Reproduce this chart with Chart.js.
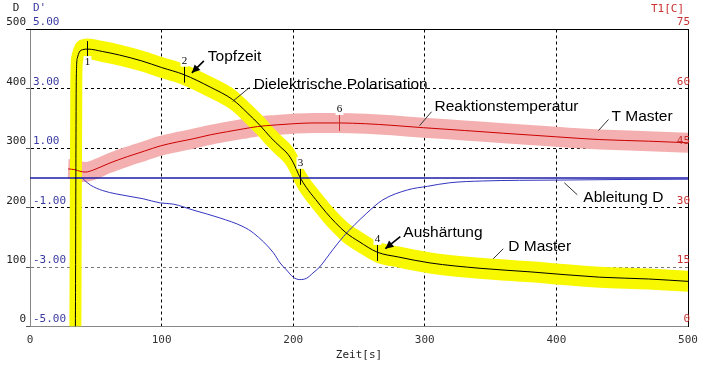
<!DOCTYPE html>
<html>
<head>
<meta charset="utf-8">
<script src="https://cdn.jsdelivr.net/npm/chart.js@4.4.1/dist/chart.umd.min.js"></script>
<style>
  html, body { margin: 0; padding: 0; background: #fff; }
</style>
</head>
<body>
<canvas id="chart" width="708" height="365"></canvas>
<script>
// time axis [s]
const xTicks = [0, 100, 200, 300, 400, 500];
const dTicks = [0, 100, 200, 300, 400, 500];
const dpTicks = [-5, -3, -1, 1, 3, 5];
const tTicks = [0, 15, 30, 45, 60, 75];

// D Master
const timeD = [34.5, 35.2, 36, 37.5, 40, 44, 55, 68, 85, 100, 117, 137, 154, 165, 175, 183, 190, 196, 200, 205, 210, 217, 225, 232, 240, 250, 264, 280, 304, 342, 380, 433, 470, 500];
const dMaster = [0, 420, 452, 462, 466, 467, 463, 457, 447, 436, 424, 403, 382, 360, 338, 318, 303, 290, 276, 252, 234, 214, 192, 175, 158, 143, 125, 117, 107, 98, 92, 83, 80, 76];

// T Master [C]
const timeT = [29, 34, 38, 42, 48, 60, 74, 87, 99, 112, 124, 137, 150, 162, 173, 187, 200, 215, 235, 255, 275, 299, 330, 360, 400, 433, 470, 500];
const tMaster = [39.8, 39.6, 39.2, 39.0, 39.5, 41.2, 42.9, 44.3, 45.6, 46.6, 47.4, 48.4, 49.2, 49.9, 50.5, 50.9, 51.2, 51.4, 51.4, 51.2, 50.8, 50.2, 49.5, 48.8, 47.9, 47.2, 46.8, 46.4];

// Ableitung D (D')
const timeDp = [34, 39, 42, 46, 55, 66, 86, 99, 109, 124, 144, 162, 170, 185, 190, 195, 200, 205, 210, 215, 220, 230, 238, 256, 268, 287, 302, 319, 344, 400, 450, 500];
const dDeriv = [0, 0, -0.1, -0.24, -0.42, -0.54, -0.70, -0.84, -0.88, -1.08, -1.34, -1.64, -1.86, -2.52, -2.86, -3.1, -3.34, -3.42, -3.38, -3.2, -3.0, -2.42, -1.98, -1.18, -0.74, -0.40, -0.28, -0.16, -0.10, -0.07, -0.05, -0.04];
const zeroTimes = [0, 500];
const zeroValues = [0, 0];

// numbered marks on the curves
const markerLabels = ['1', '2', '3', '4', '6'];
const markerTimes = [43, 117, 205, 264, 235];
const markerValues = [467, 424, 252, 124, 51.4];
const markerAxes = ['yD', 'yD', 'yD', 'yD', 'yT'];

const notes = [
  { text: 'Topfzeit', t: 123, v: 427, axis: 'yD', line: [12, -12], label: [16, -16], arrow: true },
  { text: 'Dielektrische Polarisation', t: 154, v: 379, axis: 'yD', line: [17, -14], label: [21, -17] },
  { text: 'Reaktionstemperatur', t: 296, v: 50.7, axis: 'yT', line: [12, -14], label: [15, -19] },
  { text: 'T Master', t: 432, v: 49.5, axis: 'yT', line: [10, -11], label: [13, -14] },
  { text: 'Ableitung D', t: 406, v: -0.16, axis: 'yDp', line: [13, 12], label: [19, 15] },
  { text: 'Aushärtung', t: 270, v: 131, axis: 'yD', line: [15, -12], label: [18, -16], arrow: true },
  { text: 'D Master', t: 352, v: 114, axis: 'yD', line: [10, -10], label: [15, -12] }
];

const pts = (xs, ys) => xs.map((x, i) => ({ x, y: ys[i] }));
const mono = { family: '"DejaVu Sans Mono", monospace', size: 11 };
const monoCss = '11px "DejaVu Sans Mono", monospace';
const red = '#c83232';
const blue = '#3a3aa0';

// thick tolerance bands, stroked with an elliptical pen (wider vertically)
const bandPen = {
  id: 'bandPen',
  beforeDatasetDraw(chart, args) {
    const ds = chart.data.datasets[args.index];
    if (!ds.band) return;
    const { ctx, chartArea: a } = chart;
    const line = args.meta.dataset;
    if (line.updateControlPoints) line.updateControlPoints(a, 'x');
    const raw = new Path2D();
    line.path(raw);
    const k = ds.band.height / ds.band.width;
    const squashed = new Path2D();
    squashed.addPath(raw, new DOMMatrix([1, 0, 0, 1 / k, 0, 0]));
    ctx.save();
    ctx.beginPath();
    ctx.rect(a.left, a.top, a.right - a.left, a.bottom - a.top);
    ctx.clip();
    ctx.scale(1, k);
    ctx.lineWidth = ds.band.width;
    ctx.strokeStyle = ds.borderColor;
    ctx.lineJoin = 'round';
    ctx.lineCap = 'butt';
    ctx.stroke(squashed);
    ctx.restore();
    return false;
  }
};

const overlay = {
  id: 'overlay',
  afterDraw(chart) {
    const { ctx, chartArea: a, scales } = chart;
    ctx.save();
    // top frame
    const top = Math.floor(a.top) + 0.5;
    ctx.strokeStyle = '#000';
    ctx.lineWidth = 1;
    ctx.beginPath();
    ctx.moveTo(a.left - 4, top);
    ctx.lineTo(a.right, top);
    ctx.stroke();

    // axis names
    ctx.font = monoCss;
    ctx.textBaseline = 'middle';
    ctx.textAlign = 'center';
    ctx.fillStyle = '#222';
    ctx.fillText('D', a.left - 14, a.top - 21);
    ctx.textAlign = 'left';
    ctx.fillStyle = blue;
    ctx.fillText("D'", a.left + 3, a.top - 21);
    ctx.textAlign = 'right';
    ctx.fillStyle = red;
    ctx.fillText('T1[C]', a.right - 4, a.top - 20);

    // numbered marks
    ctx.font = '11px "Liberation Serif", serif';
    ctx.textAlign = 'center';
    markerLabels.forEach((lab, i) => {
      const x = Math.round(scales.x.getPixelForValue(markerTimes[i])) + 0.5;
      const y = scales[markerAxes[i]].getPixelForValue(markerValues[i]);
      ctx.strokeStyle = markerAxes[i] === 'yT' ? red : '#000';
      ctx.beginPath();
      ctx.moveTo(x, y - 8);
      ctx.lineTo(x, y + 8);
      ctx.stroke();
      const ly = i === 0 ? y + 13 : y - 14;
      ctx.fillStyle = '#fff';
      ctx.fillRect(x - 4, ly - 6, 8, 12);
      ctx.fillStyle = '#000';
      ctx.fillText(lab, x, ly);
    });

    // annotations
    ctx.font = '15.5px "Liberation Sans", Arial, sans-serif';
    ctx.textAlign = 'left';
    notes.forEach(n => {
      const tx = scales.x.getPixelForValue(n.t);
      const ty = scales[n.axis].getPixelForValue(n.v);
      const sx = tx + n.line[0], sy = ty + n.line[1];
      ctx.strokeStyle = n.arrow ? '#000' : '#333';
      ctx.lineWidth = n.arrow ? 1.6 : 1;
      ctx.beginPath();
      ctx.moveTo(sx, sy);
      ctx.lineTo(tx, ty);
      ctx.stroke();
      if (n.arrow) {
        const ang = Math.atan2(ty - sy, tx - sx);
        ctx.fillStyle = '#000';
        ctx.beginPath();
        ctx.moveTo(tx, ty);
        ctx.lineTo(tx - 8 * Math.cos(ang) + 4 * Math.sin(ang), ty - 8 * Math.sin(ang) - 4 * Math.cos(ang));
        ctx.lineTo(tx - 8 * Math.cos(ang) - 4 * Math.sin(ang), ty - 8 * Math.sin(ang) + 4 * Math.cos(ang));
        ctx.closePath();
        ctx.fill();
      }
      ctx.fillStyle = '#000';
      ctx.fillText(n.text, tx + n.label[0], ty + n.label[1]);
    });
    ctx.restore();
  }
};

const dGridColor = v => {
  if (v === 0 || v === 500) return 'rgba(0,0,0,0)';
  return v === 100 ? '#777' : '#000';
};

new Chart(document.getElementById('chart'), {
  type: 'line',
  data: {
    datasets: [
      { data: pts(timeT, tMaster), yAxisID: 'yT', borderColor: '#f4b0b0', borderWidth: 1, band: { width: 12, height: 20 }, order: 6, clip: false },
      { data: pts(timeD, dMaster), yAxisID: 'yD', borderColor: '#f8f800', borderWidth: 1, band: { width: 12, height: 21 }, order: 5, clip: false },
      { data: pts(zeroTimes, zeroValues), yAxisID: 'yDp', borderColor: '#1c1ca6', borderWidth: 1.4, order: 4 },
      { data: pts(timeDp, dDeriv), yAxisID: 'yDp', borderColor: '#3434c0', borderWidth: 1, order: 3 },
      { data: pts(timeT, tMaster), yAxisID: 'yT', borderColor: '#cc0000', borderWidth: 1, order: 2 },
      { data: pts(timeD, dMaster), yAxisID: 'yD', borderColor: '#000', borderWidth: 1, order: 1 }
    ]
  },
  options: {
    responsive: false,
    animation: false,
    parsing: false,
    elements: { point: { radius: 0 }, line: { cubicInterpolationMode: 'monotone' } },
    layout: { padding: { top: 29.5, right: 20, bottom: 0, left: 0 } },
    plugins: { legend: { display: false }, tooltip: { enabled: false } },
    scales: {
      x: {
        type: 'linear', position: 'bottom', min: 0, max: 500,
        afterBuildTicks: s => { s.ticks = xTicks.map(v => ({ value: v })); },
        afterFit: s => { s.height = 38.5; s.paddingLeft = 0; s.paddingRight = 0; },
        ticks: { font: mono, color: '#333', padding: 7, maxRotation: 0, autoSkip: false },
        grid: {
          color: c => (c.tick && c.tick.value > 0 && c.tick.value < 500) ? '#000' : 'rgba(0,0,0,0)',
          drawTicks: false
        },
        border: { color: '#888', dash: [3, 3] },
        title: { display: true, text: 'Zeit[s]', font: mono, color: '#222', padding: { top: 0, bottom: 3 } }
      },
      yD: {
        type: 'linear', position: 'left', weight: 1, min: 0, max: 500,
        afterBuildTicks: s => { s.ticks = dTicks.map(v => ({ value: v })); },
        afterFit: s => { s.width = 30; s.paddingTop = 0; s.paddingBottom = 0; },
        ticks: { font: mono, color: '#222', padding: 0, labelOffset: -7 },
        grid: { color: c => dGridColor(c.tick ? c.tick.value : 0), tickLength: 4, tickColor: '#555' },
        border: { color: '#888', dash: [3, 3] }
      },
      yDp: {
        type: 'linear', position: 'left', weight: 0, min: -5, max: 5,
        afterBuildTicks: s => { s.ticks = dpTicks.map(v => ({ value: v })); },
        afterFit: s => { s.width = 0; s.paddingTop = 0; s.paddingBottom = 0; },
        ticks: { mirror: true, z: 1, font: mono, color: blue, padding: 3, labelOffset: -7, callback: v => v.toFixed(2) },
        grid: { display: false },
        border: { display: false }
      },
      yT: {
        type: 'linear', position: 'right', min: 0, max: 75,
        afterBuildTicks: s => { s.ticks = tTicks.map(v => ({ value: v })); },
        afterFit: s => { s.width = 0; s.paddingTop = 0; s.paddingBottom = 0; },
        ticks: { mirror: true, z: 1, font: mono, color: red, padding: 2, labelOffset: -7 },
        grid: { display: false },
        border: { color: '#000' }
      }
    }
  },
  plugins: [bandPen, overlay]
});
</script>
</body>
</html>
